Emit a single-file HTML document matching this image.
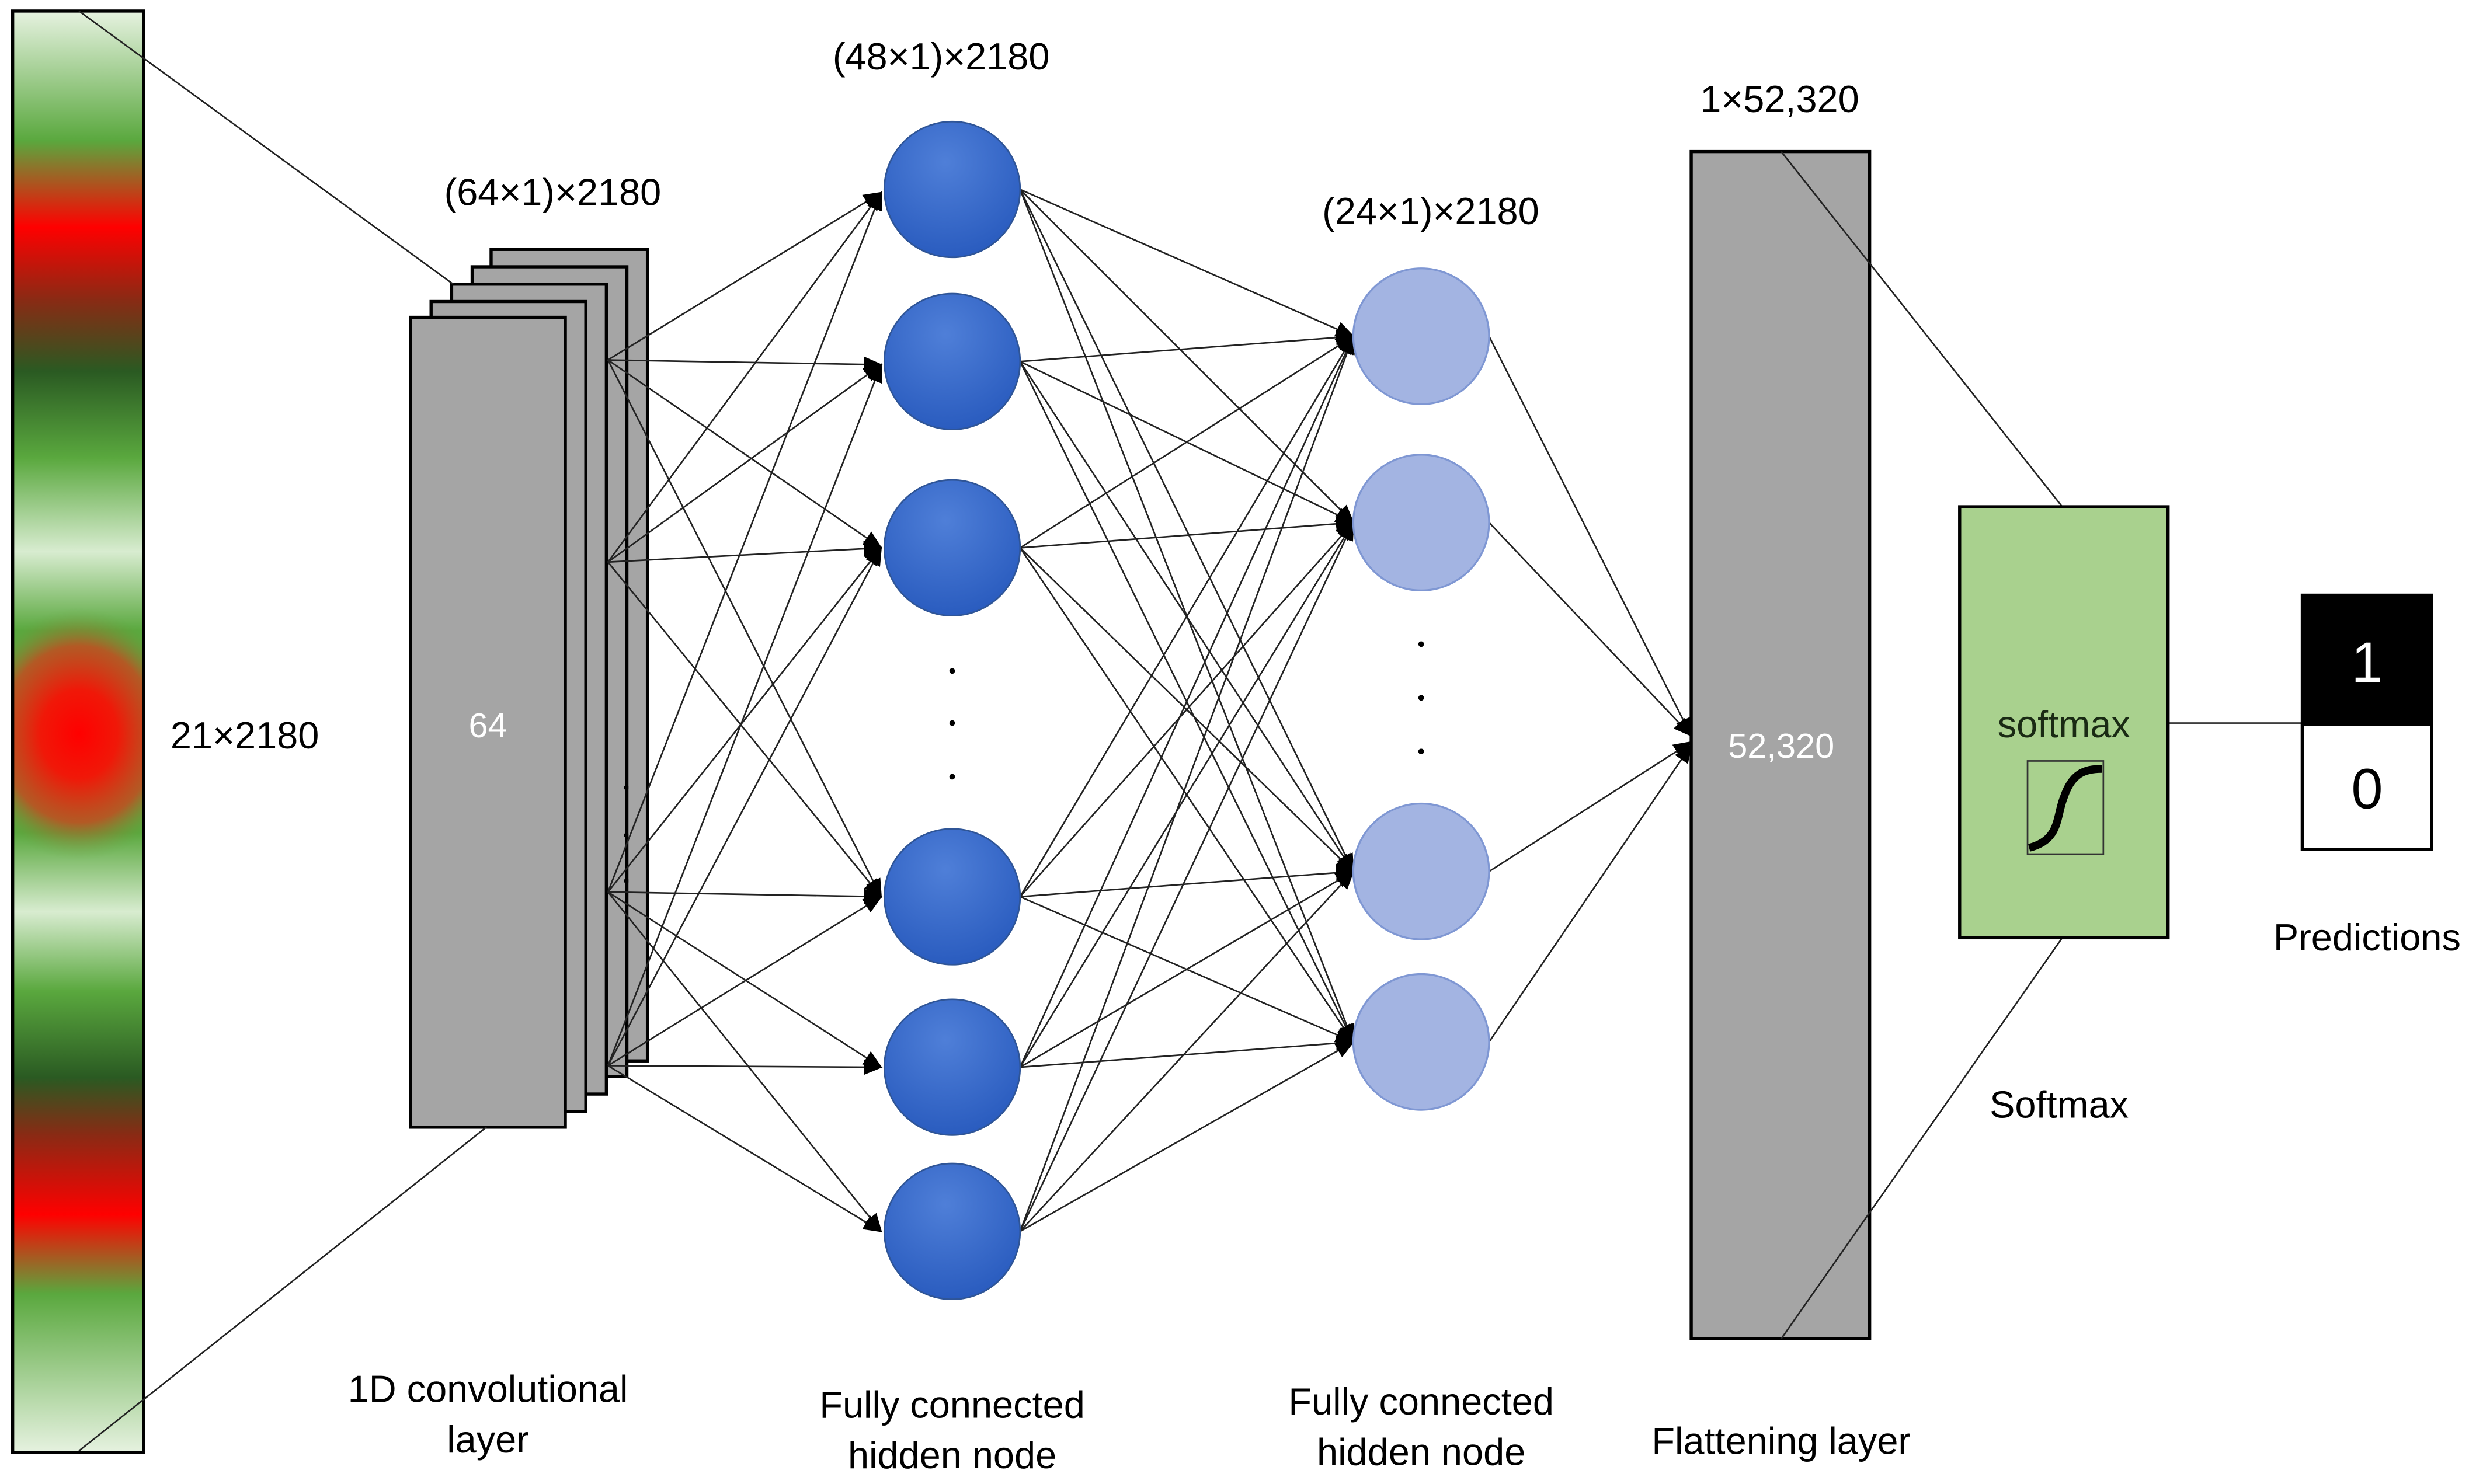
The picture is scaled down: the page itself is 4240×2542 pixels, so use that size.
<!DOCTYPE html>
<html><head><meta charset="utf-8"><style>
html,body{margin:0;padding:0;background:#fff;}
svg{display:block;}
text{font-family:"Liberation Sans",sans-serif;}
</style></head><body>
<svg width="4240" height="2542" viewBox="0 0 1568 940" preserveAspectRatio="none" xmlns="http://www.w3.org/2000/svg">
<defs>
<linearGradient id="strip" x1="0" y1="0" x2="0" y2="1">
<stop offset="0" stop-color="#e6f2e0"/>
<stop offset="0.09" stop-color="#5aa83e"/>
<stop offset="0.15" stop-color="#ff0000"/>
<stop offset="0.20" stop-color="#8a2a14"/>
<stop offset="0.25" stop-color="#2a5a22"/>
<stop offset="0.31" stop-color="#5aa83e"/>
<stop offset="0.375" stop-color="#d8ecd0"/>
<stop offset="0.43" stop-color="#5aa83e"/>
<stop offset="0.57" stop-color="#5aa83e"/>
<stop offset="0.625" stop-color="#d8ecd0"/>
<stop offset="0.68" stop-color="#5aa83e"/>
<stop offset="0.74" stop-color="#2a5a22"/>
<stop offset="0.78" stop-color="#8a2a14"/>
<stop offset="0.835" stop-color="#ff0000"/>
<stop offset="0.89" stop-color="#5aa83e"/>
<stop offset="1" stop-color="#e6f2e0"/>
</linearGradient>
<radialGradient id="redspot" cx="0.5" cy="0.5" r="0.5">
<stop offset="0" stop-color="#ff0000"/>
<stop offset="0.35" stop-color="#f01808"/>
<stop offset="0.7" stop-color="#d0401c" stop-opacity="0.75"/>
<stop offset="1" stop-color="#5aa83e" stop-opacity="0"/>
</radialGradient>
<radialGradient id="blue" cx="0.45" cy="0.3" r="0.7">
<stop offset="0" stop-color="#4f7fd8"/>
<stop offset="1" stop-color="#2a5cbf"/>
</radialGradient>
<clipPath id="sc"><rect x="8" y="7" width="83" height="913"/></clipPath>
<marker id="ar" markerWidth="12" markerHeight="10" refX="11" refY="5" orient="auto" markerUnits="userSpaceOnUse">
<path d="M0,0 L12,5 L0,10 Z" fill="#000"/>
</marker>
</defs>

<rect x="8" y="7" width="83" height="913" fill="url(#strip)"/>
<ellipse cx="50" cy="465" rx="70" ry="80" fill="url(#redspot)" clip-path="url(#sc)"/>
<rect x="8" y="7" width="83" height="913" fill="none" stroke="#000" stroke-width="2"/>
<text x="155" y="474" font-size="24" text-anchor="middle">21×2180</text>

<g fill="#a5a5a5" stroke="#000" stroke-width="2">
<rect x="311" y="158" width="99" height="514"/>
<rect x="299" y="169" width="98" height="513"/>
<rect x="286" y="180" width="98" height="513"/>
<rect x="273" y="191" width="98" height="513"/>
<rect x="260" y="201" width="98" height="513"/>
</g>
<text x="309" y="467" font-size="22" fill="#fff" text-anchor="middle">64</text>
<g fill="#000"><rect x="395" y="498" width="3" height="2"/><rect x="395" y="528" width="3" height="2"/><rect x="395" y="557" width="3" height="2"/></g>
<text x="350" y="130" font-size="24" text-anchor="middle">(64×1)×2180</text>

<g stroke="#222" stroke-width="1">
<line x1="50" y1="7" x2="287" y2="180"/>
<line x1="50" y1="919" x2="308" y2="714"/>
</g>

<g stroke="#222" stroke-width="1" marker-end="url(#ar)">
<line x1="385" y1="228" x2="558" y2="122"/>
<line x1="385" y1="228" x2="558" y2="231"/>
<line x1="385" y1="228" x2="558" y2="347"/>
<line x1="385" y1="228" x2="558" y2="568"/>
<line x1="385" y1="356" x2="558" y2="122"/>
<line x1="385" y1="356" x2="558" y2="231"/>
<line x1="385" y1="356" x2="558" y2="347"/>
<line x1="385" y1="356" x2="558" y2="568"/>
<line x1="385" y1="565" x2="558" y2="122"/>
<line x1="385" y1="565" x2="558" y2="347"/>
<line x1="385" y1="565" x2="558" y2="568"/>
<line x1="385" y1="565" x2="558" y2="676"/>
<line x1="385" y1="565" x2="558" y2="780"/>
<line x1="385" y1="675" x2="558" y2="231"/>
<line x1="385" y1="675" x2="558" y2="347"/>
<line x1="385" y1="675" x2="558" y2="568"/>
<line x1="385" y1="675" x2="558" y2="676"/>
<line x1="385" y1="675" x2="558" y2="780"/>
</g>

<g stroke="#222" stroke-width="1" marker-end="url(#ar)">
<line x1="646" y1="120" x2="857" y2="213"/><line x1="646" y1="120" x2="857" y2="331"/><line x1="646" y1="120" x2="857" y2="552"/><line x1="646" y1="120" x2="857" y2="660"/>
<line x1="646" y1="229" x2="857" y2="213"/><line x1="646" y1="229" x2="857" y2="331"/><line x1="646" y1="229" x2="857" y2="552"/><line x1="646" y1="229" x2="857" y2="660"/>
<line x1="646" y1="347" x2="857" y2="213"/><line x1="646" y1="347" x2="857" y2="331"/><line x1="646" y1="347" x2="857" y2="552"/><line x1="646" y1="347" x2="857" y2="660"/>
<line x1="646" y1="568" x2="857" y2="213"/><line x1="646" y1="568" x2="857" y2="331"/><line x1="646" y1="568" x2="857" y2="552"/><line x1="646" y1="568" x2="857" y2="660"/>
<line x1="646" y1="676" x2="857" y2="213"/><line x1="646" y1="676" x2="857" y2="331"/><line x1="646" y1="676" x2="857" y2="552"/><line x1="646" y1="676" x2="857" y2="660"/>
<line x1="646" y1="780" x2="857" y2="213"/><line x1="646" y1="780" x2="857" y2="331"/><line x1="646" y1="780" x2="857" y2="552"/><line x1="646" y1="780" x2="857" y2="660"/>
</g>

<g stroke="#222" stroke-width="1" marker-end="url(#ar)">
<line x1="943" y1="213" x2="1071" y2="466"/>
<line x1="943" y1="331" x2="1071" y2="466"/>
<line x1="943" y1="552" x2="1071" y2="470"/>
<line x1="943" y1="660" x2="1071" y2="472"/>
</g>

<g fill="url(#blue)" stroke="#2f5597" stroke-width="1">
<circle cx="603" cy="120" r="43"/><circle cx="603" cy="229" r="43"/><circle cx="603" cy="347" r="43"/>
<circle cx="603" cy="568" r="43"/><circle cx="603" cy="676" r="43"/><circle cx="603" cy="780" r="43"/>
</g>
<g fill="#000"><circle cx="603" cy="425" r="1.8"/><circle cx="603" cy="458" r="1.8"/><circle cx="603" cy="492" r="1.8"/></g>
<text x="596" y="44" font-size="24" text-anchor="middle">(48×1)×2180</text>

<g fill="#a3b4e2" stroke="#7f97d3" stroke-width="1.2">
<circle cx="900" cy="213" r="43"/><circle cx="900" cy="331" r="43"/>
<circle cx="900" cy="552" r="43"/><circle cx="900" cy="660" r="43"/>
</g>
<g fill="#000"><circle cx="900" cy="408" r="1.8"/><circle cx="900" cy="442" r="1.8"/><circle cx="900" cy="476" r="1.8"/></g>
<text x="906" y="142" font-size="24" text-anchor="middle">(24×1)×2180</text>

<rect x="1071" y="96" width="113" height="752" fill="#a5a5a5" stroke="#000" stroke-width="2"/>
<text x="1128" y="480" font-size="22" fill="#fff" text-anchor="middle">52,320</text>
<text x="1127" y="71" font-size="24" text-anchor="middle">1×52,320</text>
<g stroke="#222" stroke-width="1">
<line x1="1128" y1="96" x2="1306" y2="321"/>
<line x1="1128" y1="848" x2="1306" y2="594"/>
<line x1="1373" y1="458" x2="1458" y2="458"/>
</g>

<rect x="1241" y="321" width="132" height="273" fill="#a9d18e" stroke="#000" stroke-width="2"/>
<text x="1307" y="467" font-size="24" text-anchor="middle" fill="#1a2a14">softmax</text>
<rect x="1284" y="482" width="48" height="59" fill="none" stroke="#333" stroke-width="1"/>
<path d="M1285,537 C1305,532 1302,517 1307,505 C1312,490 1320,487 1331,487" fill="none" stroke="#000" stroke-width="5"/>
<text x="1304" y="708" font-size="24" text-anchor="middle">Softmax</text>

<rect x="1458" y="377" width="82" height="82" fill="#000"/>
<rect x="1458" y="459" width="82" height="79" fill="#fff" stroke="#000" stroke-width="2"/>
<rect x="1458" y="377" width="82" height="161" fill="none" stroke="#000" stroke-width="2"/>
<text x="1499" y="432" font-size="36" fill="#fff" text-anchor="middle">1</text>
<text x="1499" y="512" font-size="36" fill="#000" text-anchor="middle">0</text>
<text x="1499" y="602" font-size="24" text-anchor="middle">Predictions</text>

<g font-size="24" text-anchor="middle">
<text x="309" y="888">1D convolutional</text><text x="309" y="920">layer</text>
<text x="603" y="898">Fully connected</text><text x="603" y="930">hidden node</text>
<text x="900" y="896">Fully connected</text><text x="900" y="928">hidden node</text>
<text x="1128" y="921">Flattening layer</text>
</g>
</svg>
</body></html>
